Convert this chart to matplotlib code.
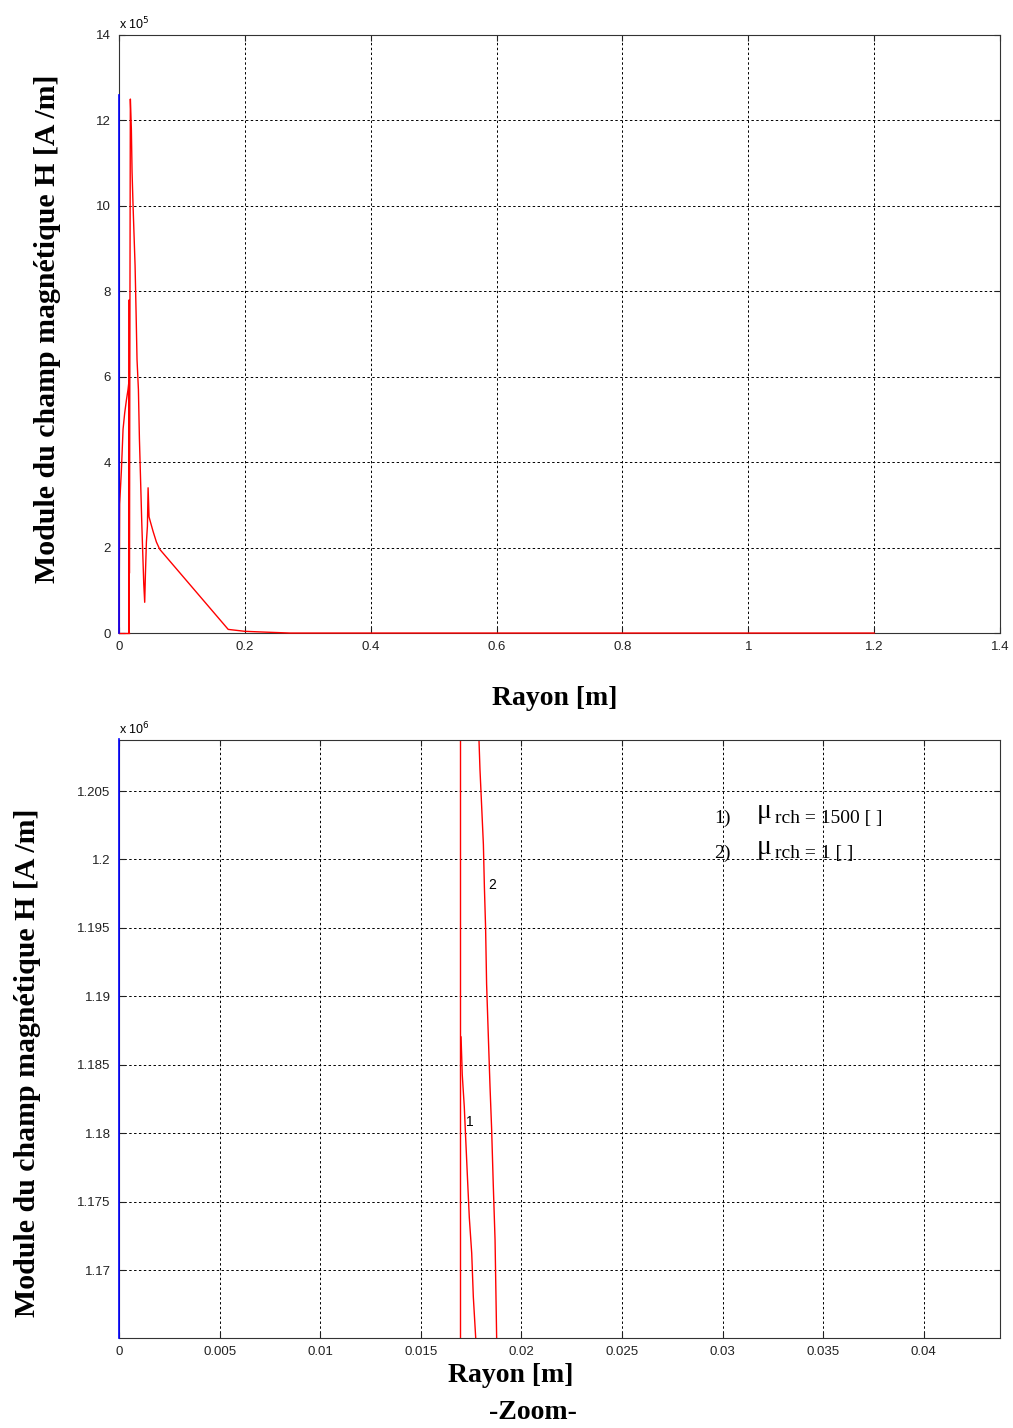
import numpy as np
import matplotlib
matplotlib.use("Agg")
from matplotlib import pyplot as plt

# rayon [m] et H [x 1e5 A/m], vue complete
r_full = [0.0, 0.001, 0.0037, 0.0064, 0.009, 0.0117, 0.0143, 0.0159, 0.0159, 0.0162,
          0.0165, 0.018, 0.0196, 0.0207, 0.0223, 0.0239, 0.0255, 0.0271, 0.0286,
          0.0308, 0.0324, 0.0345, 0.0361, 0.0377, 0.0393, 0.0408, 0.0419, 0.0435,
          0.0451, 0.0462, 0.0477, 0.0499, 0.0541, 0.0594, 0.0647, 0.1735, 0.2,
          0.2345, 0.2716, 0.4, 0.8, 1.2]
h_full = [0.0, 3.02, 3.79, 4.77, 5.15, 5.45, 5.7, 5.91, 0.0, 7.8,
          1.4, 12.5, 11.8, 10.8, 10.0, 9.3, 8.6, 7.5, 6.4,
          5.7, 4.55, 3.45, 2.6, 1.87, 1.15, 0.72, 1.36, 2.13,
          2.5, 3.4, 2.72, 2.6, 2.38, 2.13, 1.96, 0.085, 0.04,
          0.02, 0.0, 0.0, 0.0, 0.0]
# petite branche a zero avant le saut
r_base = [0.0, 0.0159]
h_base = [0.0, 0.0]
h_max = 12.6

# zoom [m], H [x 1e6 A/m]
r_z1a = [0.01695, 0.01695]
h_z1a = [1.165, 1.2088]
r_z1 = [0.0170, 0.01706, 0.01716, 0.01723, 0.01731, 0.01741, 0.01753, 0.01761, 0.01773]
h_z1 = [1.18703, 1.18427, 1.18195, 1.17964, 1.17703, 1.17384, 1.17123, 1.16804, 1.165]
r_z2 = [0.01789, 0.01794, 0.01803, 0.01811, 0.01816, 0.01822, 0.01827, 0.01836,
        0.01844, 0.01852, 0.01860, 0.01869, 0.01877]
h_z2 = [1.2088, 1.2066, 1.2037, 1.2011, 1.198, 1.195, 1.1909, 1.1869,
        1.1834, 1.1803, 1.1763, 1.1722, 1.165]

serif = ['Liberation Serif', 'DejaVu Serif']
sans = ['Liberation Sans', 'DejaVu Sans']
plt.rcParams['font.family'] = sans

fig = plt.figure(figsize=(10.13, 14.28), dpi=100)
ax1 = fig.add_axes([0.1175, 0.5567, 0.8697, 0.4188])
ax2 = fig.add_axes([0.1175, 0.0630, 0.8697, 0.4188])


def matlab_style(ax):
    ax.grid(True, color='black', linestyle=(0, (2.5, 2.5)), linewidth=0.7)
    ax.tick_params(direction='in', top=True, right=True, length=4,
                   labelsize=9.5, pad=6, colors='#222222')
    for s in ax.spines.values():
        s.set_linewidth(0.8)
        s.set_color('#333333')


ax1.plot(r_base, h_base, color='red', lw=1.0, clip_on=False, zorder=4)
ax1.plot(r_full, h_full, color='red', lw=1.0, clip_on=False, zorder=4)
ax1.plot([0, 0], [0, h_max], color='blue', lw=1.2, clip_on=False, zorder=5)
ax1.set_xlim(0, 1.4)
ax1.set_ylim(0, 14)
ax1.set_xticks(np.arange(0, 1.41, 0.2))
ax1.set_xticklabels(['0', '0.2', '0.4', '0.6', '0.8', '1', '1.2', '1.4'])
ax1.set_yticks(np.arange(0, 15, 2))
matlab_style(ax1)
ax1.text(0.0, 1.005, r'x 10$^5$', transform=ax1.transAxes, fontsize=9, va='bottom')
fig.text(0.0464, 0.7696, 'Module du champ magnétique H [A /m]', family=serif,
         fontsize=21.5, fontweight='bold', rotation=90, ha='center', va='center')
fig.text(0.548, 0.511, 'Rayon [m]', family=serif, fontsize=20,
         fontweight='bold', ha='center', va='center')

ax2.plot(r_z1a, h_z1a, color='red', lw=1.0)
ax2.plot(r_z1, h_z1, color='red', lw=1.0)
ax2.plot(r_z2, h_z2, color='red', lw=1.0)
ax2.plot([0, 0], [1.165, 1.2088], color='blue', lw=1.2, clip_on=False, zorder=5)
ax2.set_xlim(0, 0.04379)
ax2.set_ylim(1.16503, 1.20873)
ax2.set_xticks(np.arange(0, 0.0401, 0.005))
ax2.set_xticklabels(['0', '0.005', '0.01', '0.015', '0.02', '0.025', '0.03', '0.035', '0.04'])
ax2.set_yticks([1.17, 1.175, 1.18, 1.185, 1.19, 1.195, 1.2, 1.205])
ax2.set_yticklabels(['1.17', '1.175', '1.18', '1.185', '1.19', '1.195', '1.2', '1.205'])
matlab_style(ax2)
ax2.text(0.0, 1.005, r'x 10$^6$', transform=ax2.transAxes, fontsize=9, va='bottom')
ax2.text(0.01745, 1.1808, '1', fontsize=10, ha='center', va='center')
ax2.text(0.01854, 1.1981, '2', fontsize=10, ha='center', va='center')
fig.text(0.0267, 0.2556, 'Module du champ magnétique H [A /m]', family=serif,
         fontsize=21.5, fontweight='bold', rotation=90, ha='center', va='center')

# legende manuelle
for i, (lab, val) in enumerate([('1)', '1500 [ ]'), ('2)', '1 [ ]')]):
    yy = 1.2027 - i * 0.0026
    ax2.text(0.0296, yy, lab, family=serif, fontsize=14, va='baseline')
    ax2.text(0.0317, yy + 0.0003, 'μ', family=serif, fontsize=20, va='baseline')
    ax2.text(0.0326, yy, 'rch = ' + val, family=serif, fontsize=14, va='baseline')

fig.text(0.504, 0.0365, 'Rayon [m]', family=serif, fontsize=20,
         fontweight='bold', ha='center', va='center')
fig.text(0.526, 0.011, '-Zoom-', family=serif, fontsize=20,
         fontweight='bold', ha='center', va='center')

plt.savefig('out.png', dpi=100)
